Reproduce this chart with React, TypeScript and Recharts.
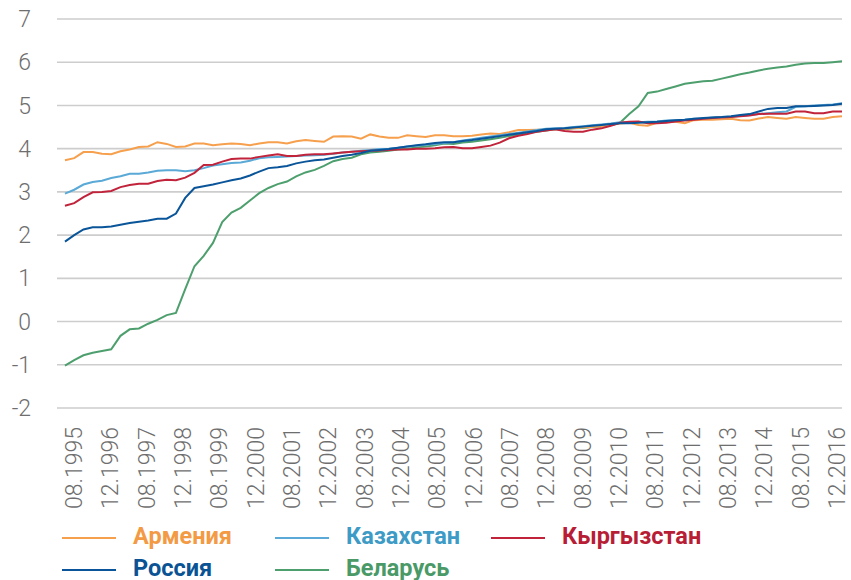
import { LineChart, Line, XAxis, YAxis, CartesianGrid } from 'recharts'

const X_LABELS = [
  '08.1995', '12.1996', '08.1997', '12.1998', '08.1999', '12.2000', '08.2001', '12.2002',
  '08.2003', '12.2004', '08.2005', '12.2006', '08.2007', '12.2008', '08.2009', '12.2010',
  '08.2011', '12.2012', '08.2013', '12.2014', '08.2015', '12.2016',
]
const Y_TICKS = [-2, -1, 0, 1, 2, 3, 4, 5, 6, 7]

const ARMENIA = [
  3.73, 3.78, 3.92, 3.92, 3.88, 3.87, 3.94, 3.98, 4.04, 4.05,
  4.15, 4.11, 4.04, 4.05, 4.12, 4.12, 4.08, 4.1, 4.12, 4.11,
  4.08, 4.12, 4.15, 4.15, 4.12, 4.17, 4.2, 4.18, 4.16, 4.28,
  4.29, 4.28, 4.23, 4.33, 4.28, 4.25, 4.25, 4.31, 4.29, 4.27,
  4.31, 4.31, 4.29, 4.29, 4.3, 4.33, 4.35, 4.34, 4.38, 4.43,
  4.43, 4.44, 4.44, 4.45, 4.46, 4.47, 4.49, 4.5, 4.52, 4.55,
  4.58, 4.6, 4.55, 4.53, 4.6, 4.63, 4.62, 4.59, 4.66, 4.67,
  4.67, 4.68, 4.69, 4.66, 4.65, 4.7, 4.73, 4.71, 4.69, 4.73,
  4.71, 4.69, 4.69, 4.73, 4.75,
]
const KAZAKHSTAN = [
  2.96, 3.05, 3.17, 3.23, 3.26, 3.32, 3.36, 3.42, 3.42, 3.45,
  3.49, 3.5, 3.5, 3.48, 3.5, 3.55, 3.61, 3.64, 3.67, 3.68,
  3.72, 3.78, 3.8, 3.81, 3.82, 3.83, 3.84, 3.85, 3.86, 3.88,
  3.91, 3.93, 3.95, 3.97, 3.99, 4.0, 4.02, 4.05, 4.07, 4.09,
  4.11, 4.13, 4.15, 4.19, 4.22, 4.25, 4.28, 4.31, 4.34, 4.37,
  4.4, 4.43, 4.46, 4.47, 4.48, 4.5, 4.52, 4.54, 4.56, 4.58,
  4.61, 4.61, 4.61, 4.62, 4.63, 4.65, 4.66, 4.67, 4.69, 4.7,
  4.72, 4.73, 4.74, 4.76, 4.78, 4.8, 4.82, 4.84, 4.86, 4.97,
  4.98, 5.0, 5.01, 5.02, 5.05,
]
const KYRGYZSTAN = [
  2.68, 2.74, 2.88, 2.99, 3.0, 3.02, 3.11, 3.16, 3.19, 3.19,
  3.25, 3.28, 3.27, 3.33, 3.44, 3.62, 3.63, 3.7, 3.76, 3.77,
  3.77, 3.81, 3.84, 3.87, 3.83, 3.83, 3.86, 3.87, 3.87, 3.89,
  3.91, 3.93, 3.94, 3.95, 3.96, 3.97, 3.98, 3.98, 4.0, 4.0,
  4.01, 4.03, 4.04, 4.01, 4.01, 4.04, 4.07, 4.14, 4.24, 4.3,
  4.34, 4.39, 4.42, 4.45, 4.41, 4.39, 4.39, 4.44, 4.47, 4.53,
  4.6, 4.62, 4.63, 4.59, 4.59, 4.6, 4.63, 4.65, 4.67, 4.69,
  4.71, 4.72, 4.73, 4.75, 4.77, 4.8, 4.81, 4.81, 4.81, 4.86,
  4.86, 4.82, 4.82, 4.86, 4.86,
]
const RUSSIA = [
  1.85, 2.0, 2.13, 2.18, 2.18, 2.2, 2.24, 2.28, 2.31, 2.34,
  2.38, 2.38, 2.5, 2.86, 3.09, 3.13, 3.17, 3.22, 3.27, 3.31,
  3.38, 3.47, 3.55, 3.57, 3.6, 3.66, 3.7, 3.73, 3.75, 3.79,
  3.83, 3.86, 3.9, 3.95, 3.97, 3.99, 4.02, 4.05, 4.08, 4.1,
  4.13, 4.15, 4.15, 4.18, 4.2, 4.23, 4.26, 4.29, 4.32, 4.35,
  4.38, 4.41, 4.45, 4.46, 4.47, 4.49, 4.51, 4.53, 4.55, 4.57,
  4.59, 4.59, 4.6, 4.61, 4.62, 4.64, 4.66, 4.67, 4.69, 4.71,
  4.72, 4.73, 4.75, 4.78, 4.8, 4.86, 4.92, 4.94, 4.94, 4.98,
  4.98, 4.99, 5.0, 5.01, 5.04,
]
const BELARUS = [
  -1.02, -0.89, -0.78, -0.72, -0.68, -0.64, -0.33, -0.18, -0.16, -0.05,
  0.04, 0.15, 0.2, 0.75, 1.28, 1.52, 1.82, 2.3, 2.52, 2.63,
  2.8, 2.97, 3.09, 3.18, 3.24, 3.36, 3.45, 3.51, 3.6, 3.71,
  3.76, 3.79, 3.87, 3.91, 3.93, 3.95, 3.98, 4.0, 4.03, 4.05,
  4.08, 4.12, 4.11, 4.14, 4.16, 4.19, 4.22, 4.25, 4.29, 4.33,
  4.37, 4.39, 4.42, 4.45, 4.45, 4.47, 4.48, 4.5, 4.52, 4.55,
  4.6, 4.8, 4.98, 5.29, 5.32, 5.38, 5.44, 5.5, 5.53, 5.56,
  5.57, 5.62, 5.67, 5.72, 5.76, 5.81, 5.85, 5.88, 5.9, 5.94,
  5.97, 5.98, 5.98, 6.0, 6.02,
]

const SERIES = [
  { key: 'armenia', name: 'Армения', color: '#F6A04E', text: '#F39A45', values: ARMENIA },
  { key: 'kazakhstan', name: 'Казахстан', color: '#5AA9D6', text: '#3D9BC6', values: KAZAKHSTAN },
  { key: 'kyrgyzstan', name: 'Кыргызстан', color: '#C1233B', text: '#B81D36', values: KYRGYZSTAN },
  { key: 'russia', name: 'Россия', color: '#0A5599', text: '#0A5394', values: RUSSIA },
  { key: 'belarus', name: 'Беларусь', color: '#4E9F6E', text: '#4A9A68', values: BELARUS },
]
// drawing order, bottom first
const DRAW_ORDER = ['belarus', 'armenia', 'kazakhstan', 'kyrgyzstan', 'russia']

const data = ARMENIA.map((_, i) => {
  const row: Record<string, number> = { i }
  SERIES.forEach((s) => { row[s.key] = s.values[i] })
  return row
})

const last = ARMENIA.length - 1
// label positions along the index axis (labels are not aligned to the points exactly)
const X_TICKS = X_LABELS.map((_, k) => 0.97 + k * ((last - 0.55 - 0.97) / (X_LABELS.length - 1)))

const GRAY = '#6e6e6e'
const FONT = 'Roboto, "DejaVu Sans", sans-serif'

function XTick(props: any) {
  const { x, y, index } = props
  const bx = x + 8
  const by = y + 19
  return (
    <text
      x={bx}
      y={by}
      transform={`rotate(-90 ${bx} ${by})`}
      textAnchor="end"
      fill={GRAY}
      fontSize={23}
      fontWeight={300}
      fontFamily={FONT}
    >
      {X_LABELS[index]}
    </text>
  )
}

const LEGEND_COLS = [62, 275, 491]

function ChartLegend() {
  return (
    <>
      {SERIES.map((s, n) => {
        const left = LEGEND_COLS[n % 3]
        const top = 523.5 + Math.floor(n / 3) * 32
        return (
          <div key={s.key} style={{ position: 'absolute', left, top, height: 24 }}>
            <div style={{ position: 'absolute', left: 0, top: 13, width: 54, height: 2, background: s.color }} />
            <div
              style={{
                position: 'absolute', left: 71, top: 0, whiteSpace: 'nowrap',
                fontFamily: FONT, fontWeight: 700, fontSize: 23.5, lineHeight: '24px', color: s.text,
              }}
            >
              {s.name}
            </div>
          </div>
        )
      })}
    </>
  )
}

export default function App() {
  return (
    <div style={{ position: 'absolute', left: 0, top: 0, width: 851, height: 580, background: '#fff' }}>
      <LineChart width={851} height={580} data={data} margin={{ top: 19, right: 9, left: 0, bottom: 0 }}>
        <CartesianGrid vertical={false} stroke="#cdcdcd" strokeWidth={1.6} />
        <XAxis
          dataKey="i"
          type="number"
          domain={[-0.86, last]}
          ticks={X_TICKS}
          interval={0}
          height={172}
          axisLine={false}
          tickLine={false}
          tickSize={0}
          tickMargin={0}
          tick={<XTick />}
        />
        <YAxis
          type="number"
          domain={[-2, 7]}
          ticks={Y_TICKS}
          interval={0}
          width={57}
          axisLine={false}
          tickLine={false}
          tickSize={0}
          tickMargin={26}
          tick={{ fill: GRAY, fontSize: 23, fontWeight: 300, fontFamily: FONT }}
        />
        {DRAW_ORDER.map((k) => {
          const s = SERIES.find((x) => x.key === k)!
          return (
            <Line
              key={s.key}
              dataKey={s.key}
              name={s.name}
              stroke={s.color}
              strokeWidth={2}
              dot={false}
              activeDot={false}
              type="linear"
              isAnimationActive={false}
            />
          )
        })}
      </LineChart>
      <ChartLegend />
    </div>
  )
}
